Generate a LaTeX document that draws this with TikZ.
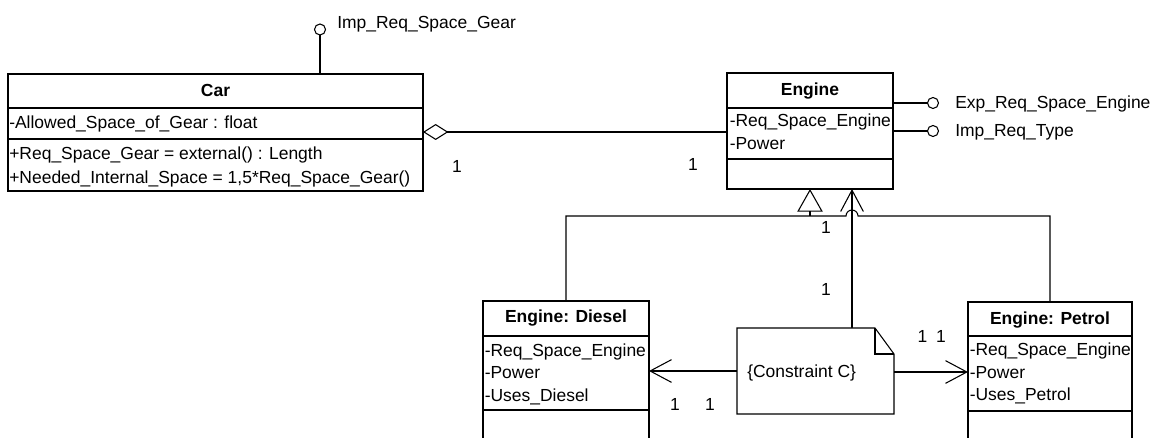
\documentclass[tikz,border=0pt]{standalone}
\usepackage{fontspec}
\setmainfont{Liberation Sans}
\usetikzlibrary{arrows.meta,fit}
\begin{document}
\begin{tikzpicture}[x=0.75pt,y=-0.75pt,
  font=\fontsize{13.1}{17}\selectfont,
  box/.style={draw, line width=1.1pt, inner sep=0pt, outer sep=0pt},
  area/.style={inner sep=0pt, outer sep=0pt},
  txt/.style={inner sep=0pt, anchor=base west},
  ttl/.style={inner sep=0pt, anchor=base, font=\fontsize{13.1}{17}\selectfont\bfseries},
  mult/.style={inner sep=0pt, anchor=base},
  iface/.style={draw, circle, line width=0.8pt, minimum size=8.25pt, inner sep=0pt, outer sep=0pt},
  conn/.style={line width=0.8pt},
  div/.style={line width=1.1pt},
  barb/.style={-{Straight Barb[length=16pt, width=17pt]}}]
\useasboundingbox (0,0) rectangle (1154,438);
\clip (0,0) rectangle (1154,438);

% ---------- Car ----------
\coordinate (carNW) at (8,74); \coordinate (carSE) at (423,191);
\node[box, fit=(carNW)(carSE)] (car) {};
\draw[div] (car.west |- 0,108) -- (car.east |- 0,108);
\draw[div] (car.west |- 0,139) -- (car.east |- 0,139);
\node[ttl] (carT) at (215.5,97) {Car};
\node[txt] (carA1) at (9,129) {-Allowed\_Space\_of\_Gear : float};
\node[txt] (carM1) at (9,160) {+Req\_Space\_Gear = external() : Length};
\node[txt] (carM2) at (9,184) {+Needed\_Internal\_Space = 1,5*Req\_Space\_Gear()};

% Car interface
\node[iface] (i0) at (320,29.5) {};
\draw[conn] (i0.south) -- (i0 |- car.north);
\node[txt] (i0t) at (337,29) {Imp\_Req\_Space\_Gear};

% ---------- Engine ----------
\coordinate (engNW) at (727,73); \coordinate (engSE) at (893,189);
\node[box, fit=(engNW)(engSE)] (engine) {};
\draw[div] (engine.west |- 0,108) -- (engine.east |- 0,108);
\draw[div] (engine.west |- 0,159) -- (engine.east |- 0,159);
\node[ttl] (engT) at (810,96) {Engine};
\node[txt] (engA1) at (729.5,126.5) {-Req\_Space\_Engine};
\node[txt] (engA2) at (729.5,150) {-Power};

% Engine interfaces
\node[iface] (i1) at (933,103) {};
\node[iface] (i2) at (933,131) {};
\draw[conn] (engine.east |- i1) -- (i1.west);
\draw[conn] (engine.east |- i2) -- (i2.west);
\node[txt] (i1t) at (955,108.5) {Exp\_Req\_Space\_Engine};
\node[txt] (i2t) at (955,136.5) {Imp\_Req\_Type};

% aggregation Car -- Engine
\draw[conn, {Diamond[open, length=19pt, width=12pt]}-] (car.east |- 0,132) -- (engine.west |- 0,132);
\node[mult] (m1) at (457,172.5) {1};
\node[mult] (m2) at (693,170.5) {1};

% ---------- Engine: Diesel ----------
\coordinate (dieNW) at (483,301); \coordinate (dieSE) at (649,470);
\node[box, fit=(dieNW)(dieSE)] (diesel) {};
\draw[div] (diesel.west |- 0,336) -- (diesel.east |- 0,336);
\draw[div] (diesel.west |- 0,410) -- (diesel.east |- 0,410);
\node[ttl] (dieT) at (566,323) {Engine: Diesel};
\node[txt] (dieA1) at (484.5,357) {-Req\_Space\_Engine};
\node[txt] (dieA2) at (484.5,379) {-Power};
\node[txt] (dieA3) at (484.5,401.5) {-Uses\_Diesel};

% ---------- Engine: Petrol ----------
\coordinate (petNW) at (968,302); \coordinate (petSE) at (1132,470);
\node[box, fit=(petNW)(petSE)] (petrol) {};
\draw[div] (petrol.west |- 0,336) -- (petrol.east |- 0,336);
\draw[div] (petrol.west |- 0,411) -- (petrol.east |- 0,411);
\node[ttl] (petT) at (1050,324.5) {Engine: Petrol};
\node[txt] (petA1) at (969.5,356) {-Req\_Space\_Engine};
\node[txt] (petA2) at (969.5,378.5) {-Power};
\node[txt] (petA3) at (969.5,401) {-Uses\_Petrol};

% ---------- generalization ----------
\coordinate (gj) at (810,216);
\draw[conn, -{Triangle[open, length=17pt, width=19pt]}] (gj) -- (gj |- engine.south);
\draw[conn] (diesel.north) -- (diesel.north |- gj) -- (846,216)
  arc[start angle=180, end angle=360, radius=6] -- (petrol.north |- gj) -- (petrol.north);

% ---------- note ----------
\coordinate (nNW) at (737,328); \coordinate (nSE) at (894,414);
\node[area, fit=(nNW)(nSE)] (note) {};
\coordinate (nv) at (852,0);
\draw[conn, barb] (note.north -| nv) -- (engine.south -| nv);
\draw[conn, fill=white] (note.north west) -- (875,328) -- (894,354) -- (note.south east) -- (note.south west) -- cycle;
\draw[conn] (875,328) -- (875,354) -- (894,354);
\node[txt] (noteT) at (747,378) {\{Constraint C\}};
\draw[conn, barb] (note.west |- 0,371) -- (diesel.east |- 0,371);
\draw[conn, barb] (note.east |- 0,372) -- (petrol.west |- 0,372);

\node[mult] (m3) at (826,234) {1};
\node[mult] (m4) at (826,295.5) {1};
\node[mult] (m5) at (675,410.5) {1};
\node[mult] (m6) at (710,410.5) {1};
\node[mult] (m7) at (922.5,343) {1};
\node[mult] (m8) at (941,343) {1};
\end{tikzpicture}
\end{document}
